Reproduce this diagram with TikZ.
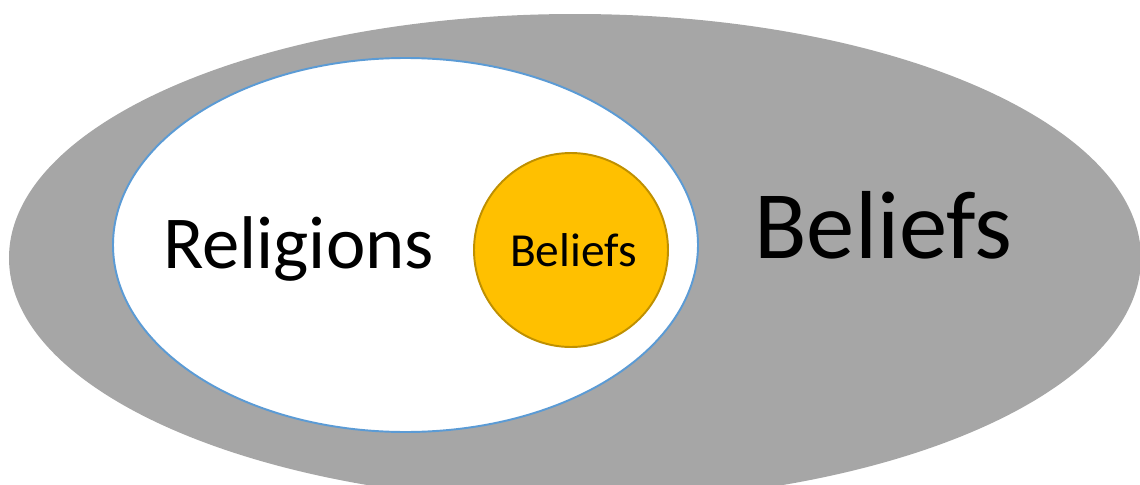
\documentclass[tikz,border=0pt]{standalone}
\usepackage{fontspec}
\setmainfont{Carlito}
\usetikzlibrary{shapes.geometric, positioning}
\definecolor{outergray}{HTML}{A6A6A6}
\definecolor{innerblue}{HTML}{5B9BD5}
\definecolor{coreorange}{HTML}{FFC000}
\definecolor{coreedge}{HTML}{BF9000}
\tikzset{
	outer/.style={ellipse, fill=outergray, minimum width=22.64cm, minimum height=9.76cm},
	inner/.style={ellipse, draw=innerblue, line width=1.1pt, fill=white, minimum width=11.7cm, minimum height=7.48cm},
	core/.style={circle, draw=coreedge, line width=1.1pt, fill=coreorange, minimum size=3.88cm},
	label/.style={anchor=base, inner sep=0pt}
}

\begin{document}
\begin{tikzpicture}
        \useasboundingbox (0,0) rectangle (22.8,-9.7);
        \clip (0,0) rectangle (22.8,-9.7);
        \node[outer] (all) at (11.5, -5.16) {};
        \node[inner] (rel) at (8.11, -4.9) {};
        \node[core] (rb) at (11.42, -5.0) {};

        \node[label, font=\fontsize{42.5}{50}\selectfont] (reltext) at (5.97, -5.37) {Religions};
        \node[label, font=\fontsize{27}{32}\selectfont] (rbtext) at (11.47, -5.32) {Beliefs};
        \node[label, font=\fontsize{55}{66}\selectfont] (alltext) at (17.67, -5.16) {Beliefs};
    \end{tikzpicture}
\end{document}
